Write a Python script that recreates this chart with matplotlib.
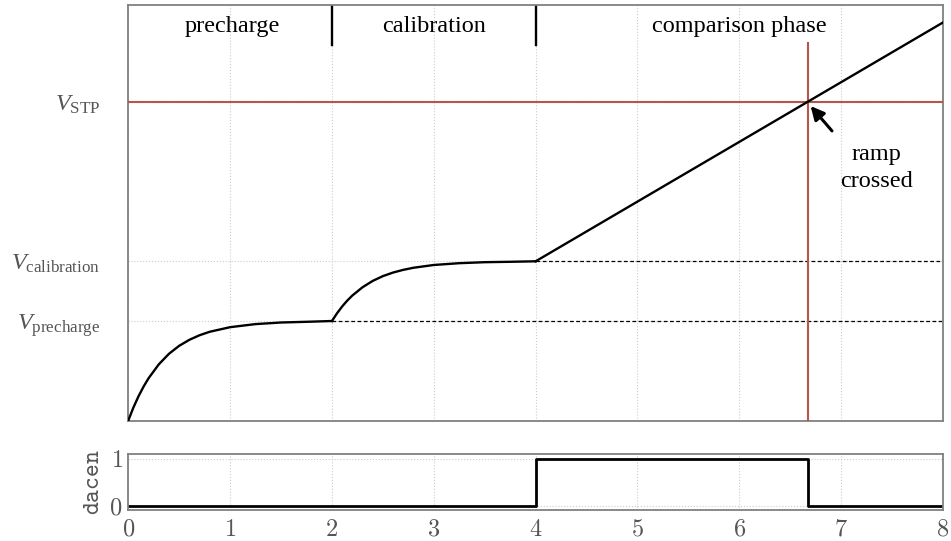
import matplotlib.pyplot as plt
import matplotlib as mpl

mpl.rcParams['mathtext.fontset'] = 'custom'
mpl.rcParams['mathtext.rm'] = 'Liberation Serif'
mpl.rcParams['mathtext.it'] = 'Liberation Serif:italic'
mpl.rcParams['font.family'] = 'Liberation Serif'

# levels (arbitrary units)
v_pre = 1.0
v_cal = 1.6
v_stp = 3.2
t_cross = 6.67

# precharge charging curve
t_pre = [0, 0.05, 0.1, 0.15, 0.2, 0.3, 0.4, 0.5, 0.6, 0.7, 0.8, 1.0, 1.25, 1.5, 1.75, 2.0]
v_pre_curve = [0, 0.13, 0.243, 0.341, 0.426, 0.565, 0.671, 0.751, 0.811, 0.857, 0.892,
               0.938, 0.969, 0.985, 0.992, 1.0]
# calibration curve
t_cal = [2.0, 2.05, 2.1, 2.15, 2.2, 2.3, 2.4, 2.5, 2.6, 2.7, 2.8, 3.0, 3.25, 3.5, 3.75, 4.0]
v_cal_curve = [1.0, 1.078, 1.146, 1.205, 1.256, 1.339, 1.403, 1.451, 1.487, 1.514, 1.535,
               1.563, 1.581, 1.591, 1.595, 1.6]
# ramp
t_ramp = [4.0, 8.0]
v_ramp = [1.6, 4.0]

# dacen signal
t_dacen = [0, 4, 4, t_cross, t_cross, 8]
dacen = [0, 0, 1, 1, 0, 0]

phases = ['precharge', 'calibration', 'comparison phase']
phase_pos = [1.02, 3.0, 6.0]
phase_bounds = [2, 4]

ytick_vals = [v_pre, v_cal, v_stp]
ytick_labels = [r'$V_\mathrm{precharge}$', r'$V_\mathrm{calibration}$', r'$V_\mathrm{STP}$']

red = '#b5564c'
spine_col = '#808080'
tick_col = '#555555'
grid_kw = dict(color='#cccccc', linestyle=':', linewidth=0.8)
fs = 17.5

fig = plt.figure(figsize=(9.51, 5.41), dpi=100)
ax = fig.add_axes([0.1349, 0.2227, 0.8567, 0.7689])
ax2 = fig.add_axes([0.1349, 0.0573, 0.8567, 0.1035])

# main axes
ax.set_xlim(0, 8)
ax.set_ylim(0, 4.18)
ax.set_xticks(range(9))
ax.set_xticklabels([])
ax.set_yticks(ytick_vals)
ax.set_yticklabels(ytick_labels, fontsize=fs, color=tick_col)
ax.tick_params(length=0, pad=20)
ax.grid(True, **grid_kw)
ax.set_axisbelow(True)

ax.axhline(v_stp, color=red, lw=1.5, zorder=3)
ax.plot([t_cross, t_cross], [0, 3.79], color=red, lw=1.5, zorder=3)

ax.plot([2, 8], [v_pre, v_pre], color='black', ls='--', lw=0.9, dashes=(3, 2))
ax.plot([4, 8], [v_cal, v_cal], color='black', ls='--', lw=0.9, dashes=(3, 2))

ax.plot(t_pre, v_pre_curve, color='black', lw=1.7, zorder=4)
ax.plot(t_cal, v_cal_curve, color='black', lw=1.7, zorder=4)
ax.plot(t_ramp, v_ramp, color='black', lw=1.7, zorder=4)

for b in phase_bounds:
    ax.plot([b, b], [3.77, 4.18], color='black', lw=1.7)
for name, x in zip(phases, phase_pos):
    ax.text(x, 3.96, name, ha='center', va='center', fontsize=fs)

ax.annotate('', xy=(t_cross + 0.03, v_stp - 0.04), xytext=(6.91, 2.91),
            arrowprops=dict(arrowstyle='-|>', color='black', lw=2.2,
                            mutation_scale=20, shrinkA=0, shrinkB=0))
ax.text(7.35, 2.54, 'ramp\ncrossed', ha='center', va='center', fontsize=fs,
        linespacing=1.35)

for s in ax.spines.values():
    s.set_color(spine_col)
    s.set_linewidth(1.3)

# dacen axes
ax2.plot(t_dacen, dacen, color='black', lw=2)
ax2.set_xlim(0, 8)
ax2.set_ylim(-0.085, 1.11)
ax2.set_xticks(range(9))
xl = ax2.set_xticklabels([f'${i}$' for i in range(9)], fontsize=fs, color=tick_col)
for t in xl:
    t.set_math_fontfamily('cm')
ax2.set_yticks([0, 1])
yl = ax2.set_yticklabels(['$0$', '$1$'], fontsize=fs, color=tick_col)
for t in yl:
    t.set_math_fontfamily('cm')
ax2.tick_params(axis='x', length=0, pad=7)
ax2.tick_params(axis='y', length=0, pad=4)
ax2.set_ylabel(r'$\mathtt{dacen}$', fontsize=fs, color=tick_col, math_fontfamily='cm',
               labelpad=4)
ax2.grid(True, **grid_kw)
ax2.set_axisbelow(True)
for s in ax2.spines.values():
    s.set_color(spine_col)
    s.set_linewidth(1.3)

fig.savefig('out.png', dpi=100)
